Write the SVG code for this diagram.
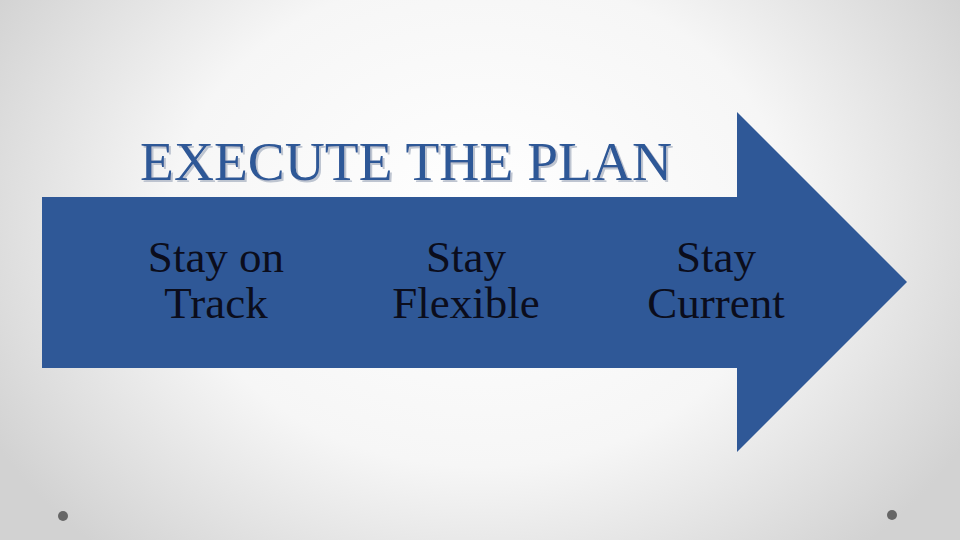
<svg xmlns="http://www.w3.org/2000/svg" width="960" height="540" viewBox="0 0 960 540">
<defs>
<radialGradient id="bg" cx="480" cy="220" r="560" gradientUnits="userSpaceOnUse" gradientTransform="translate(480 220) scale(1 0.8) translate(-480 -220)">
<stop offset="0" stop-color="#ffffff"/>
<stop offset="0.55" stop-color="#f6f6f6"/>
<stop offset="1" stop-color="#d2d2d2"/>
</radialGradient>
<filter id="ts" x="-5%" y="-20%" width="110%" height="140%">
<feDropShadow dx="2" dy="2" stdDeviation="0.6" flood-color="#b8bfcc" flood-opacity="0.9"/>
</filter>
<style>
.title{font-family:"Liberation Serif","Times New Roman",serif;font-size:55px;fill:#2F5897}
.lbl{font-family:"Liberation Serif","Times New Roman",serif;font-size:45px;fill:#0b0d1c;text-anchor:middle}
.dot{fill:#666666}
</style>
</defs>
<rect width="960" height="540" fill="url(#bg)"/>
<g id="title">
<text class="title" x="140" y="180" textLength="532" lengthAdjust="spacingAndGlyphs" filter="url(#ts)">EXECUTE THE PLAN</text>
</g>
<g id="arrow">
<polygon points="42,197 737,197 737,112 907,282 737,452 737,368 42,368" fill="#2F5897"/>
</g>
<g id="stay-on-track">
<text class="lbl" x="216" y="272">Stay on</text>
<text class="lbl" x="216" y="318">Track</text>
</g>
<g id="stay-flexible">
<text class="lbl" x="466" y="272">Stay</text>
<text class="lbl" x="466" y="318">Flexible</text>
</g>
<g id="stay-current">
<text class="lbl" x="716" y="272">Stay</text>
<text class="lbl" x="716" y="318">Current</text>
</g>
<g id="dots">
<circle class="dot" cx="63" cy="516" r="5"/>
<circle class="dot" cx="892" cy="515" r="5"/>
</g>
</svg>
